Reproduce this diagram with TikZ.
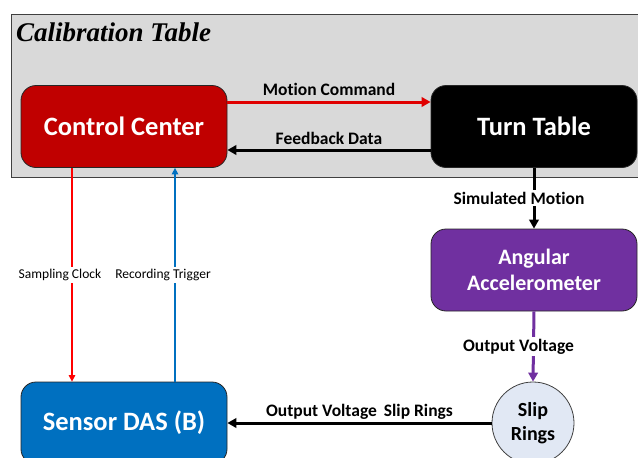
\documentclass[tikz,border=0pt]{standalone}
\usepackage{fontspec}
\setmainfont{Carlito}[Ligatures=NoCommon]
\newfontfamily\titlefont{Liberation Serif}
\usetikzlibrary{arrows.meta}

\definecolor{panelgray}{HTML}{D9D9D9}
\definecolor{framegray}{HTML}{404040}
\definecolor{ccred}{HTML}{C00000}
\definecolor{cmdred}{HTML}{E00000}
\definecolor{clkred}{HTML}{FF0000}
\definecolor{dasblue}{HTML}{0070C0}
\definecolor{accpurple}{HTML}{7030A0}
\definecolor{ringfill}{HTML}{E1E8F4}

\tikzset{
  block/.style={rectangle, rounded corners=15pt, minimum width=206pt,
    minimum height=82pt, draw=black!85, line width=0.8pt, text=white,
    align=center, font=\bfseries\fontsize{26.5}{30}\selectfont},
  bigflow/.style={line width=3pt, -{Triangle[length=9pt,width=9.5pt]}},
  smallflow/.style={line width=1.3pt, -{Triangle[length=6.5pt,width=6.5pt]}},
  flowlabel/.style={font=\bfseries\fontsize{17.5}{20}\selectfont, text=black},
  sidelabel/.style={font=\fontsize{13.5}{16}\selectfont, text=black,
    fill=white, inner sep=2pt},
}

\begin{document}
\begin{tikzpicture}[x=1pt,y=-1pt]
\useasboundingbox (0,0) rectangle (638,458);
\clip (0,0) rectangle (638,458);

% calibration table enclosure
\draw[fill=panelgray, draw=framegray, line width=1pt] (11,14) rectangle (660,177);
\node[anchor=base west, inner sep=0pt,
      font=\titlefont\bfseries\itshape\fontsize{27}{30}\selectfont] (title)
      at (16,41) {Calibration Table};

% blocks
\node[block, fill=ccred] (cc) at (124,126.5) {Control Center};
\node[block, fill=black] (tt) at (534,126.5) {Turn Table};
\node[block, fill=accpurple, font=\bfseries\fontsize{22}{26.7}\selectfont]
      (aa) at (534,270) {Angular\\Accelerometer};
\node[block, fill=dasblue] (das) at (124,423) {Sensor DAS (B)};
\node[circle, minimum size=82pt, inner sep=0pt, fill=ringfill, draw=framegray,
      line width=0.8pt, align=center, font=\bfseries\fontsize{20}{23.5}\selectfont]
      (sr) at (533,423) {Slip\\Rings};

% command and feedback between control center and turn table
\draw[bigflow, cmdred] ([yshift=24.5pt]cc.east) --
  node[flowlabel, anchor=base, yshift=7pt] {Motion Command}
  ([yshift=24.5pt]tt.west);
\draw[bigflow, black] ([yshift=-23.5pt]tt.west) --
  node[flowlabel, anchor=base, yshift=6pt] {Feedback Data}
  ([yshift=-23.5pt]cc.east);

% signal chain down the right side
\draw[bigflow, black] (tt.south) --
  node[flowlabel, fill=white, inner sep=2pt, xshift=-15pt] {Simulated Motion}
  (aa.north);
\draw[bigflow, accpurple] (aa.south) --
  node[flowlabel, fill=white, inner sep=2pt, xshift=-15pt] {Output Voltage}
  (sr.north);
\draw[bigflow, black] (sr.west) --
  node[flowlabel, anchor=base, yshift=6.5pt] {Output Voltage\hspace{3pt} Slip Rings}
  (das.east);

% clock and trigger between control center and sensor DAS
\draw[smallflow, clkred] ([xshift=-52pt]cc.south) --
  node[sidelabel, xshift=-12pt] {Sampling Clock}
  ([xshift=-52pt]das.north);
\draw[smallflow, dasblue] ([xshift=51pt]das.north) --
  node[sidelabel, xshift=-12pt] {Recording Trigger}
  ([xshift=51pt]cc.south);
\end{tikzpicture}
\end{document}
